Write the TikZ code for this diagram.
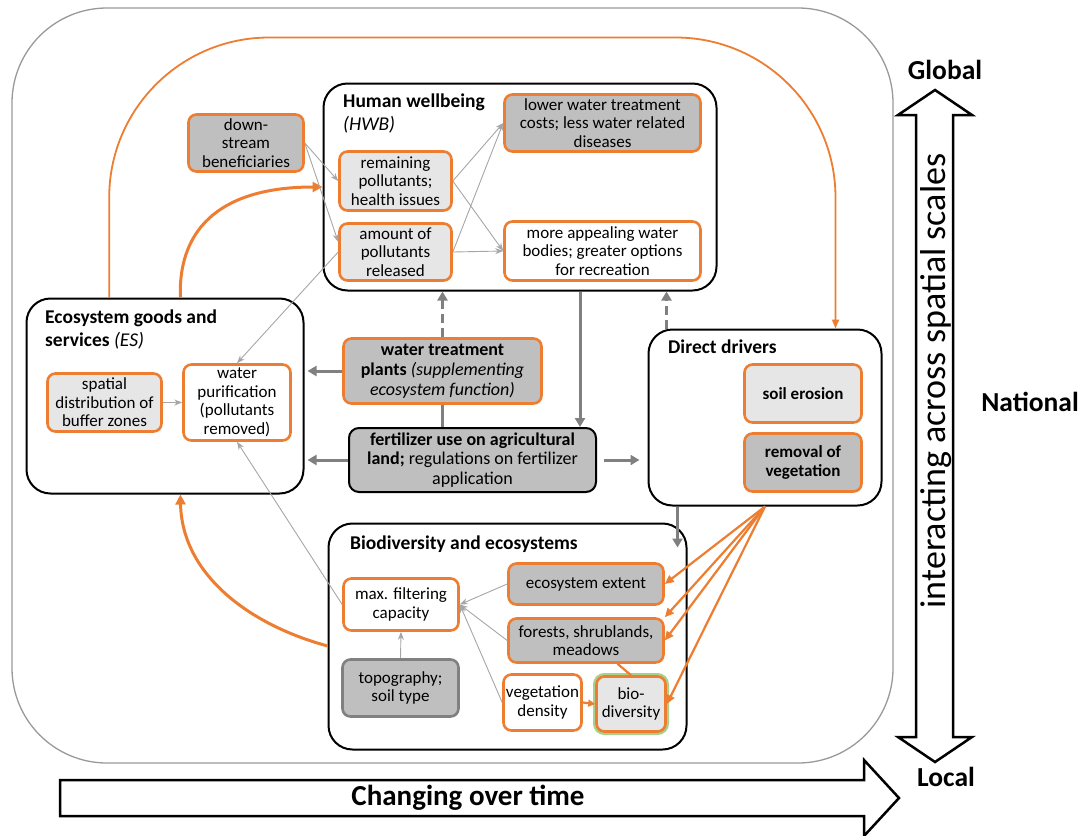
\documentclass[tikz,border=0pt]{standalone}
\usepackage{fontspec}
\setmainfont{Carlito}
\usetikzlibrary{arrows.meta,calc}

\tikzset{
    cell/.style={draw=orng,line width=2.6pt,rounded corners=8pt,align=center,inner sep=1pt,font=\fontsize{17}{18.5}\selectfont},
    darkcell/.style={cell,fill=dkgrey},
    lightcell/.style={cell,fill=ltgrey},
    whitecell/.style={cell,fill=white},
    frame/.style={draw=black,line width=2pt,rounded corners=24pt},
    boxtitle/.style={anchor=north west,align=left,inner sep=0pt,font=\fontsize{19.5}{23}\selectfont\bfseries},
    thinlink/.style={draw=thingrey,line width=0.9pt,-{Stealth[length=8pt,width=6pt]}},
    thicklink/.style={draw=arrgrey,line width=3pt,-{Triangle[length=9pt,width=10pt]}},
    orlink/.style={draw=orng,line width=3pt,-{Triangle[length=10pt,width=10pt]}},
    bigarrow/.style={draw=black,line width=2.5pt,fill=white,line join=miter},
    scalelabel/.style={font=\fontsize{27.5}{30}\selectfont\bfseries,inner sep=0pt}
}

\begin{document}
\begin{tikzpicture}[x=1pt,y=-1pt]
    \definecolor{orng}{HTML}{ED7D31}
    \definecolor{dkgrey}{HTML}{BFBFBF}
    \definecolor{ltgrey}{HTML}{E7E6E6}
    \definecolor{arrgrey}{HTML}{808080}
    \definecolor{thingrey}{HTML}{A6A6A6}
    \definecolor{grn}{HTML}{A9D18E}
    \useasboundingbox (0,0) rectangle (1086,835);
    \begin{scope}
    \clip (0,0) rectangle (1086,835);
    % outer frame and scale arrows
    \draw[draw=gray!80,line width=1.3pt,rounded corners=95pt] (12,8) rectangle (893,763);
    \draw[bigarrow] (60,780) -- (864,780) -- (864,760) -- (899,798) -- (864,836) -- (864,816) -- (60,816) -- cycle;
    \draw[bigarrow] (916,115) -- (898,115) -- (935,90) -- (972,115) -- (953,115) -- (953,737) -- (972,737) -- (935,762) -- (898,737) -- (916,737) -- cycle;
    \end{scope}
    \node[font=\fontsize{29}{32}\selectfont\bfseries] (time) at (468,798) {Changing over time};
    \node[rotate=90,font=\fontsize{36}{38}\selectfont] (space) at (936,381) {interacting across spatial scales};
    \node[scalelabel] (global) at (945,70) {Global};
    \node[scalelabel] (national) at (1030,402) {National};
    \node[scalelabel] (local) at (946,777) {Local};

    % frames
    \node[frame,minimum width=393pt,minimum height=207pt] (HWB) at (520,187) {};
    \node[frame,minimum width=277pt,minimum height=195pt] (ES) at (165,396) {};
    \node[frame,minimum width=233pt,minimum height=176pt] (DD) at (765,417.5) {};
    \node[frame,minimum width=358pt,minimum height=226pt] (BE) at (507.5,636.5) {};
    \node[boxtitle] (hwbtitle) at (343,94) {Human wellbeing\\\mdseries\itshape (HWB)};
    \node[boxtitle] (estitle) at (45,310) {Ecosystem goods and\\services \mdseries\itshape (ES)};
    \node[boxtitle] (ddtitle) at (668,340) {Direct drivers};
    \node[boxtitle] (betitle) at (350,536) {Biodiversity and ecosystems};

    % cells
    \node[darkcell,minimum width=115pt,minimum height=57pt] (dsb) at (246,143) {down-\\stream\\beneficiaries};
    \node[lightcell,minimum width=112pt,minimum height=59pt] (rphi) at (395.5,181) {remaining\\pollutants;\\health issues};
    \node[lightcell,minimum width=112pt,minimum height=57pt] (apr) at (395.5,252) {amount of\\pollutants\\released};
    \node[darkcell,minimum width=196pt,minimum height=57pt] (lwtc) at (602.5,123) {lower water treatment\\costs; less water related\\diseases};
    \node[whitecell,minimum width=196pt,minimum height=59pt] (mawb) at (602.5,251) {more appealing water\\bodies; greater options\\for recreation};
    \node[lightcell,minimum width=114pt,minimum height=58pt] (sdbz) at (104.5,402.5) {spatial\\distribution of\\buffer zones};
    \node[whitecell,minimum width=107pt,minimum height=76pt] (wp) at (237,402.5) {water\\purification\\(pollutants\\removed)};
    \node[darkcell,minimum width=198pt,minimum height=65pt,font=\fontsize{18}{20}\selectfont] (wtp) at (442.5,371) {\textbf{water treatment}\\\textbf{plants} \textit{(supplementing}\\\textit{ecosystem function)}};
    \node[darkcell,draw=black,line width=2pt,rounded corners=10pt,minimum width=247pt,minimum height=64pt,font=\fontsize{18}{19.5}\selectfont] (fert) at (472.5,460) {\textbf{fertilizer use on agricultural}\\\textbf{land;} regulations on fertilizer\\application};
    \node[lightcell,minimum width=117pt,minimum height=58pt,font=\fontsize{17}{19}\selectfont\bfseries] (se) at (803,393.5) {soil erosion};
    \node[darkcell,minimum width=117pt,minimum height=58pt,font=\fontsize{17}{19}\selectfont\bfseries] (rv) at (803,462.5) {removal of\\vegetation};
    \node[whitecell,minimum width=115pt,minimum height=52pt] (mfc) at (401,604.5) {max. filtering\\capacity};
    \node[darkcell,draw=arrgrey,minimum width=116pt,minimum height=57pt] (tst) at (400.5,688) {topography;\\soil type};
    \node[darkcell,minimum width=155pt,minimum height=41pt] (ee) at (586,584) {ecosystem extent};
    \node[darkcell,minimum width=155pt,minimum height=44pt] (fsm) at (586,640.5) {forests, shrublands,\\meadows};
    \node[whitecell,minimum width=78pt,minimum height=56pt,inner sep=0pt] (vd) at (542.5,702.5) {vegetation\\density};
    \node[lightcell,preaction={draw=grn,line width=7pt},minimum width=69pt,minimum height=55pt] (bd) at (631,704) {bio-\\diversity};

    % orange links
    \draw[draw=orng,line width=1.8pt,-{Triangle[length=9pt,width=7pt]},rounded corners=160pt] ($(ES.north west)!0.3!(ES.north east)$) |- ($(HWB.north)+(0,-45)$) -| ($(DD.north west)!0.8!(DD.north east)$);
    \draw[orlink] ($(ES.north west)!0.555!(ES.north east)$) .. controls (178,225) and (225,187) .. (HWB.west);
    \draw[orlink] (BE.183) .. controls (250,625) and (182,575) .. ($(ES.south west)!0.555!(ES.south east)$);
    \foreach \tgt in {ee.east,fsm.north east,fsm.east,bd.east}
        \draw[draw=orng,line width=2.2pt,-{Triangle[length=9pt,width=8pt]}] (DD.south) -- (\tgt);
    \draw[draw=orng,line width=2.2pt] ($(fsm.south)!0.4!(fsm.south east)$) -- (bd.north);
    \draw[draw=orng,line width=2.2pt,-{Triangle[length=7pt,width=7pt]}] (vd.east) -- (bd.west);

    % thin grey links
    \draw[thinlink] (dsb.east) -- (rphi.west);
    \draw[thinlink] (dsb.east) -- (apr.170);
    \foreach \src in {rphi,apr}{
        \draw[thinlink] (\src.east) -- (lwtc.west);
        \draw[thinlink] (\src.east) -- (mawb.west);
    }
    \draw[thinlink] (apr.west) -- (wp.north);
    \draw[thinlink] (sdbz.east) -- (wp.west);
    \draw[thinlink] (mfc.west) -- (wp.south);
    \foreach \src in {ee,fsm,vd}
        \draw[thinlink] (\src.west) -- (mfc.east);
    \draw[thinlink] (tst.north) -- (mfc.south);

    % thick grey links
    \coordinate (dropx) at ($(fert.north east)+(-17,0)$);
    \coordinate (ddup) at ($(DD.north west)+(19,0)$);
    \coordinate (dddown) at ($(DD.south west)+(30,0)$);
    \draw[thicklink,dash pattern=on 9pt off 5pt] (wtp.north) -- (wtp.north |- HWB.south);
    \draw[thicklink,shorten >=3pt] (wtp.west) -- (ES.east |- wtp.west);
    \draw[draw=arrgrey,line width=3pt] (wtp.south) -- (wtp.south |- fert.north);
    \draw[thicklink,shorten >=3pt] (fert.west) -- (ES.east |- fert.west);
    \draw[thicklink,shorten <=7pt,shorten >=8pt] (fert.east) -- (DD.west |- fert.east);
    \draw[thicklink] (dropx |- HWB.south) -- (dropx);
    \draw[thicklink,dash pattern=on 9pt off 5pt] (ddup) -- (ddup |- HWB.south);
    \draw[thicklink] (dddown) -- ++(0,41);
\end{tikzpicture}
\end{document}
